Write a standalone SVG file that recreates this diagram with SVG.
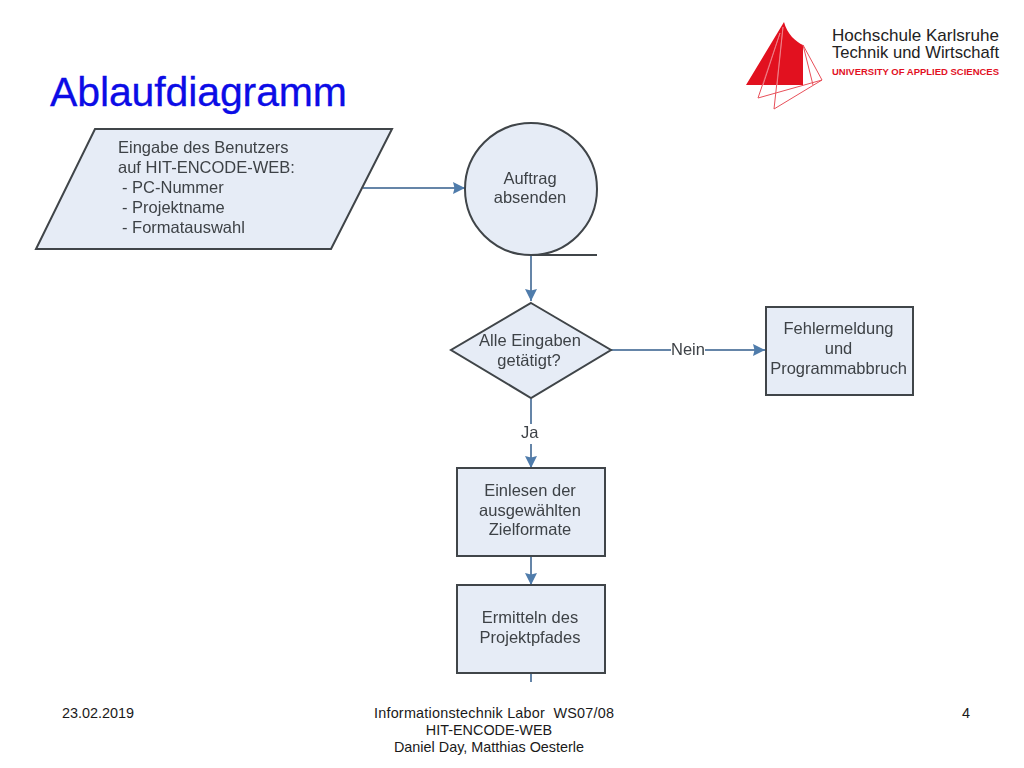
<svg xmlns="http://www.w3.org/2000/svg" width="1024" height="768" viewBox="0 0 1024 768">
<style>
text{font-family:"Liberation Sans",Arial,sans-serif}
.n{fill:#e6ecf6;stroke:#3f4448;stroke-width:2}
.l{font-size:16.5px;fill:#3e4246;text-anchor:middle}
.t{font-size:16.5px;fill:#3e4246}
.c{fill:none;stroke:#6585a8;stroke-width:2}
.f{font-size:14.4px;fill:#1a1a1a;white-space:pre}
.b{filter:url(#s)}
</style>
<defs>
<filter id="s" x="-5%" y="-5%" width="110%" height="110%"><feGaussianBlur stdDeviation="0.4"/></filter>
<marker id="a" markerUnits="userSpaceOnUse" markerWidth="14" markerHeight="14" refX="12" refY="6.5" orient="auto"><path d="M0 0.5L12 6.5L0 12.5L1.5 6.5Z" fill="#4f7bab"/></marker>
</defs>
<rect width="1024" height="768" fill="#fff"/>
<text x="50" y="106" font-size="41" fill="#0c0ce6" textLength="297" stroke="#0c0ce6" stroke-width="0.3">Ablaufdiagramm</text>
<g id="logo">
<path d="M746 85L784 22C787 34 796 42 803 45L803 85Z" fill="#e2111f"/>
<path d="M803 45L822 80L758 98L780 33M783 27L774 109L822 80M803 45L813 85" fill="none" stroke="#e8505a" stroke-width="1"/>
<path d="M780 33L763 85M783 27L777 85" fill="none" stroke="#f0808a" stroke-width="1"/>
<text x="832" y="41" font-size="17" fill="#222" textLength="167" lengthAdjust="spacingAndGlyphs">Hochschule Karlsruhe</text>
<text x="832" y="58" font-size="17" fill="#222" textLength="167" lengthAdjust="spacingAndGlyphs">Technik und Wirtschaft</text>
<text x="832" y="75" font-size="9.3" font-weight="bold" fill="#e2111f" textLength="167" lengthAdjust="spacingAndGlyphs">UNIVERSITY OF APPLIED SCIENCES</text>
</g>
<g id="connectors" class="b">
<path class="c" d="M363 188H465" marker-end="url(#a)"/>
<path class="c" d="M531 255V301" marker-end="url(#a)"/>
<path class="c" d="M611 350H671"/>
<path class="c" d="M705 350H765" marker-end="url(#a)"/>
<path class="c" d="M531 399V424"/>
<path class="c" d="M531 444V468" marker-end="url(#a)"/>
<path class="c" d="M531 556V585" marker-end="url(#a)"/>
<path class="c" d="M531 673V682"/>
<text x="671" y="355" class="t">Nein</text>
<text x="521" y="438" class="t">Ja</text>
</g>
<g id="eingabe" class="b">
<path class="n" d="M95 129H392L331 249H36Z"/>
<text class="t"><tspan x="118" y="153">Eingabe des Benutzers</tspan><tspan x="118" y="173">auf HIT-ENCODE-WEB:</tspan><tspan x="122" y="193">- PC-Nummer</tspan><tspan x="122" y="213">- Projektname</tspan><tspan x="122" y="233">- Formatauswahl</tspan></text>
</g>
<g id="auftrag" class="b">
<circle class="n" cx="531" cy="189" r="66"/>
<path d="M531 255H597" fill="none" stroke="#3f4448" stroke-width="2"/>
<text class="l"><tspan x="530" y="184">Auftrag</tspan><tspan x="530" y="203">absenden</tspan></text>
</g>
<g id="pruefung" class="b">
<path class="n" d="M531 303L611 350L531 398L451 350Z"/>
<text class="l"><tspan x="530" y="346">Alle Eingaben</tspan><tspan x="529" y="366">getätigt?</tspan></text>
</g>
<g id="fehler" class="b">
<rect class="n" x="766" y="307" width="147" height="88"/>
<text class="l"><tspan x="838.5" y="334">Fehlermeldung</tspan><tspan x="838.5" y="354">und</tspan><tspan x="838.5" y="374">Programmabbruch</tspan></text>
</g>
<g id="einlesen" class="b">
<rect class="n" x="457" y="468" width="148" height="88"/>
<text class="l"><tspan x="530" y="496">Einlesen der</tspan><tspan x="530" y="516">ausgewählten</tspan><tspan x="530" y="535">Zielformate</tspan></text>
</g>
<g id="ermitteln" class="b">
<rect class="n" x="457" y="585" width="148" height="88"/>
<text class="l"><tspan x="530" y="623">Ermitteln des</tspan><tspan x="530" y="643">Projektpfades</tspan></text>
</g>
<g id="footer">
<text x="62" y="718" class="f">23.02.2019</text>
<text x="374" y="718" class="f" textLength="240">Informationstechnik Labor  WS07/08</text>
<text class="f" text-anchor="middle"><tspan x="489" y="735">HIT-ENCODE-WEB</tspan><tspan x="489" y="752">Daniel Day, Matthias Oesterle</tspan></text>
<text x="962" y="718" class="f">4</text>
</g>
</svg>
